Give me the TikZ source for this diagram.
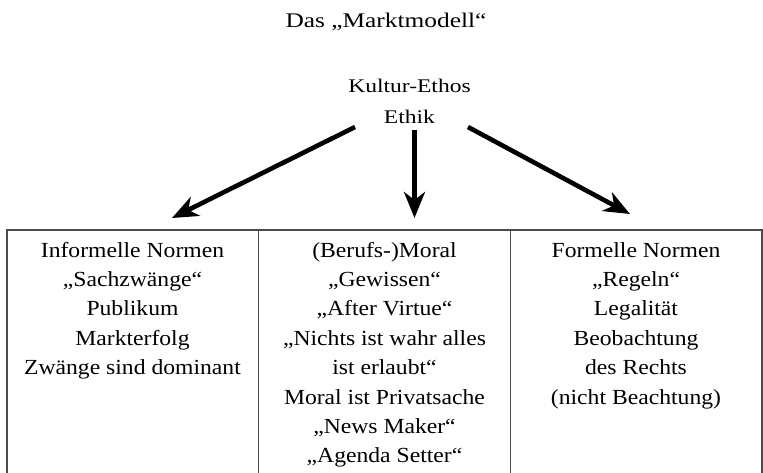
\documentclass[tikz,border=0pt]{standalone}
\usepackage{fontspec}
\setmainfont{Liberation Serif}[FakeStretch=1.1]
\newfontfamily\topfont{Liberation Serif}[FakeStretch=1.22]
\usetikzlibrary{arrows.meta}
\begin{document}
\begin{tikzpicture}[x=1pt,y=-1pt,
  cell/.style={align=center, anchor=north, inner sep=0pt, font=\fontsize{21.5}{29.4}\selectfont},
  toptext/.style={align=center, anchor=north, inner sep=0pt},
  bigarrow/.style={line width=4.6pt, -{Stealth[length=26pt,width=21pt,inset=8pt]}},
  grid/.style={draw=black!70, line width=1.3pt}]
\useasboundingbox (0,0) rectangle (763,472);
% title
\node[toptext, font=\topfont\fontsize{20.8}{28}\selectfont] (title) at (386,7.4) {\strut Das „Marktmodell“};
% ethos
\node[toptext, font=\topfont\fontsize{19.3}{31}\selectfont] (ethos) at (409.5,70.3) {\strut Kultur-Ethos\\\strut Ethik};
% arrow coordinates
\coordinate (s1) at (355,127);
\coordinate (t1) at (172,218);
\coordinate (s2) at (414.5,130);
\coordinate (t2) at (414.5,218);
\coordinate (s3) at (468,127);
\coordinate (t3) at (630,214);
\draw[bigarrow] (s1) -- (t1);
\draw[bigarrow] (s2) -- (t2);
\draw[bigarrow] (s3) -- (t3);
% table
\coordinate (tl) at (7,230);
\coordinate (tr) at (762,230);
\coordinate (bl) at (7,474);
\coordinate (br) at (762,474);
\coordinate (d1t) at (258.5,230);
\coordinate (d1b) at (258.5,474);
\coordinate (d2t) at (510.5,230);
\coordinate (d2b) at (510.5,474);
\draw[grid] (bl) -- (tl) -- (tr) -- (br);
\draw[grid] (d1t) -- (d1b);
\draw[grid] (d2t) -- (d2b);
% cells
\node[cell] (c1) at (132.5,236.4) {\strut Informelle Normen\\\strut „Sachzwänge“\\\strut Publikum\\\strut Markterfolg\\\strut Zwänge sind dominant};
\node[cell] (c2) at (384.5,236.4) {\strut (Berufs-)Moral\\\strut „Gewissen“\\\strut „After Virtue“\\\strut „Nichts ist wahr alles\\\strut ist erlaubt“\\\strut Moral ist Privatsache\\\strut „News Maker“\\\strut „Agenda Setter“};
\node[cell] (c3) at (636,236.4) {\strut Formelle Normen\\\strut „Regeln“\\\strut Legalität\\\strut Beobachtung\\\strut des Rechts\\\strut (nicht Beachtung)};
\end{tikzpicture}
\end{document}
